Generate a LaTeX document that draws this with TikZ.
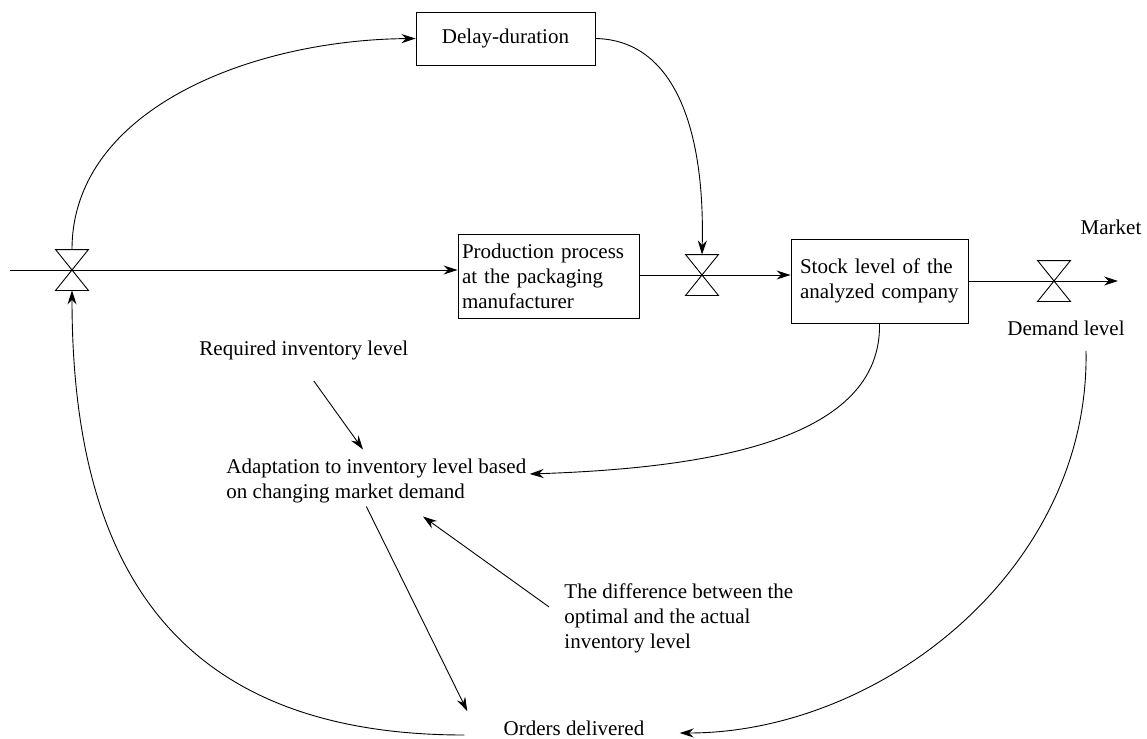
\documentclass[tikz,border=0pt]{standalone}
\usepackage{fontspec}
\setmainfont{Liberation Serif}
\usetikzlibrary{arrows.meta,calc}
\begin{document}
\begin{tikzpicture}[x=1pt,y=-1pt, line width=0.9pt,
  txt/.style={font=\fontsize{21}{25}\selectfont},
  box/.style={txt, draw, inner sep=4pt},
  lbl/.style={txt, inner sep=3pt, align=left},
  valve/.style={minimum width=32pt, minimum height=40pt, inner sep=0pt},
  arr/.style={-{Stealth[length=14pt,width=9pt]}}]
\useasboundingbox (0,0) rectangle (1147,738);

% boxes
\node[box, minimum width=179pt, minimum height=53pt] (delay) at (505.5,38.5) {Delay-duration};
\node[box, minimum width=181pt, minimum height=84pt, text width=173pt, align=left] (prod) at (548.5,276)
  {Production process\\at the packaging\\manufacturer};
\node[box, inner xsep=9pt, minimum width=177pt, minimum height=84pt, text width=159pt, align=left] (stock) at (879.5,281)
  {Stock level of the\\analyzed company};

% valves
\node[valve] (v1) at (72,270) {};
\node[valve] (v2) at (702,275) {};
\node[valve] (v3) at (1054,281) {};
\foreach \v in {v1,v2,v3}
  \draw (\v.north west) -- (\v.north east) -- (\v.south west) -- (\v.south east) -- cycle;
\coordinate (src) at (10,270);
\coordinate (mkt) at (1118,281);

% labels
\node[lbl] (market) at (1111,227) {Market};
\node[lbl] (demand) at (1066,328) {Demand level};
\node[lbl, anchor=west] (req) at (196,350) {Required inventory level};
\node[lbl, anchor=west] (adapt) at (223,481) {Adaptation to inventory level based\\on changing market demand};
\node[lbl, anchor=west] (diff) at (561,618) {The difference between the\\optimal and the actual\\inventory level};
\node[lbl] (orders) at (574,728) {Orders delivered};

% main flow
\draw (src) -- (v1.center);
\draw[arr] (v1.center) -- (prod.west |- v1.center);
\draw (prod.east |- v2.center) -- (v2.center);
\draw[arr] (v2.center) -- (stock.west |- v2.center);
\draw (stock.east |- v3.center) -- (v3.center);
\draw[arr] (v3.center) -- (mkt);

% curves
\draw[arr] (v1.north) .. controls (72,110) and (250,40) .. (delay.west);
\draw[arr] (delay.east) .. controls (675,40) and (705,130) .. (v2.north);
\draw[arr] (stock.south) .. controls (882,440) and (710,468) .. ($(adapt.east)+(0,-7)$);
\draw[arr] ($(demand.south)+(20,12)$) .. controls (1090,570) and (880,733) .. ($(orders.east)+(32,5)$);
\draw[arr] ($(orders.west)+(-36,7)$) .. controls (170,735) and (72,560) .. (v1.south);

% straight links
\draw[arr] ($(req.south)+(10,18)$) -- ($(adapt.north west)+(140,-6)$);
\draw[arr] ($(adapt.south)+(-10,0)$) -- ($(orders.north west)+(-33,-6)$);
\draw[arr] ($(diff.north west)+(-12,27)$) -- ($(adapt.south west)+(200,10)$);
\end{tikzpicture}
\end{document}
